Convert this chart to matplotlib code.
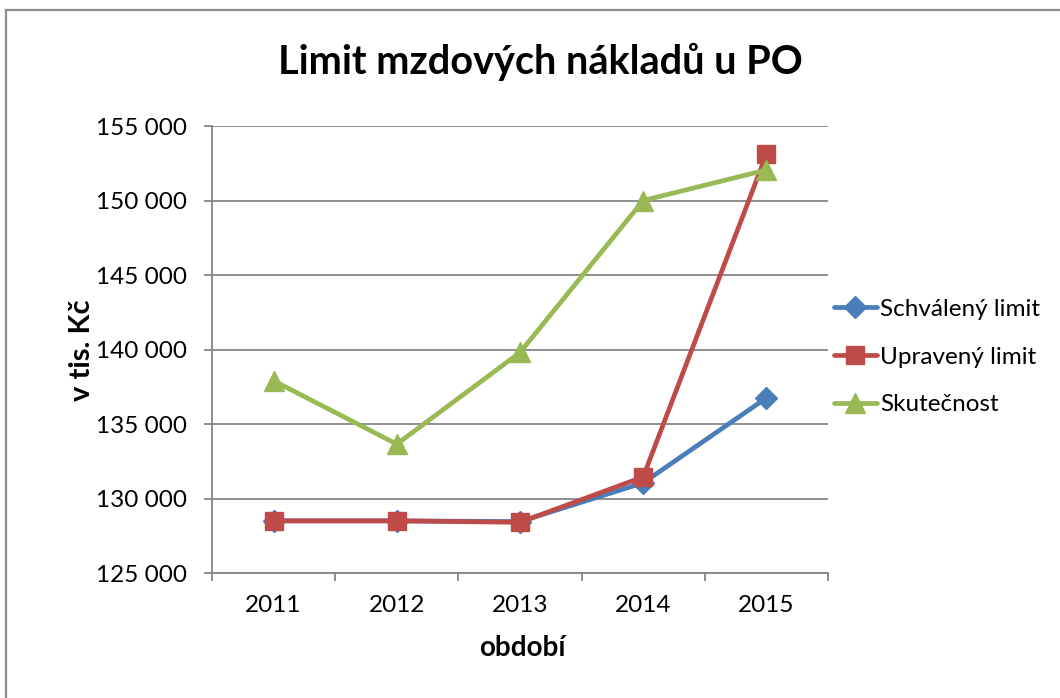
import matplotlib
matplotlib.use("Agg")
import matplotlib.pyplot as plt
from matplotlib.lines import Line2D
from matplotlib.ticker import FuncFormatter, MultipleLocator

plt.rcParams['font.family'] = ['Lato', 'DejaVu Sans']

years = ['2011', '2012', '2013', '2014', '2015']
schvaleny = [128500, 128500, 128450, 131050, 136750]
upraveny = [128500, 128500, 128400, 131450, 153100]
skutecnost = [137900, 133650, 139800, 150000, 152050]

title = 'Limit mzdových nákladů u PO'
xlabel = 'období'
ylabel = 'v tis. Kč'
labels = ['Schválený limit', 'Upravený limit', 'Skutečnost']

W, H = 1060, 698
fig = plt.figure(figsize=(W / 100, H / 100), dpi=100)
ax = fig.add_axes([212 / W, 1 - 573 / H, 616 / W, 447 / H])

x = list(range(len(years)))
lw = 3.4
ax.plot(x, schvaleny, color='#4A7EBB', lw=lw, marker='D', markersize=11, label=labels[0], zorder=3, solid_capstyle='round')
ax.plot(x, upraveny, color='#BE4B48', lw=lw, marker='s', markersize=13.5, label=labels[1], zorder=4, solid_capstyle='round')
ax.plot(x, skutecnost, color='#98B954', lw=lw, marker='^', markersize=14, label=labels[2], zorder=5, solid_capstyle='round')

ax.set_xlim(-0.5, len(years) - 0.5)
ax.set_ylim(125000, 155000)
ax.yaxis.set_major_locator(MultipleLocator(5000))
ax.yaxis.set_major_formatter(FuncFormatter(lambda v, p: f'{int(v):,}'.replace(',', ' ')))
ax.set_xticks([i - 0.5 for i in range(len(years) + 1)])
ax.set_xticklabels([])
ax.set_xticks(x, minor=True)
ax.set_xticklabels(years, minor=True)
ax.tick_params(axis='x', which='minor', length=0, pad=16, labelsize=17.5)
ax.tick_params(axis='x', which='major', length=6, width=1.3, color='#868686', direction='out')
ax.tick_params(axis='y', length=6, width=1.3, color='#868686', direction='out', pad=12, labelsize=17.5)

ax.grid(axis='y', color='#868686', lw=1.3)
ax.set_axisbelow(True)
for s in ['top', 'right']:
    ax.spines[s].set_visible(False)
for s in ['left', 'bottom']:
    ax.spines[s].set_color('#868686')
    ax.spines[s].set_linewidth(1.3)

fig.text(540 / W, 1 - 62 / H, title, ha='center', va='center', fontsize=28.5, fontweight='bold')
fig.text(522 / W, 1 - 648 / H, xlabel, ha='center', va='center', fontsize=20, fontweight='bold')
fig.text(82 / W, 1 - 350 / H, ylabel, ha='center', va='center', fontsize=21, fontweight='bold', rotation=90)

leg = ax.legend(loc='center left', bbox_to_anchor=(834 / W, 1 - 357 / H), bbox_transform=fig.transFigure,
                frameon=False, fontsize=17.5, handlelength=1.75, handletextpad=0.15, labelspacing=1.1,
                borderaxespad=0, borderpad=0)

fig.add_artist(Line2D([6 / W, 6 / W], [0, 1 - 10 / H], transform=fig.transFigure, color='#8c8c8c', lw=1.6))
fig.add_artist(Line2D([6 / W, 1], [1 - 10 / H, 1 - 10 / H], transform=fig.transFigure, color='#8c8c8c', lw=1.6))

fig.savefig('out.png', dpi=100)
